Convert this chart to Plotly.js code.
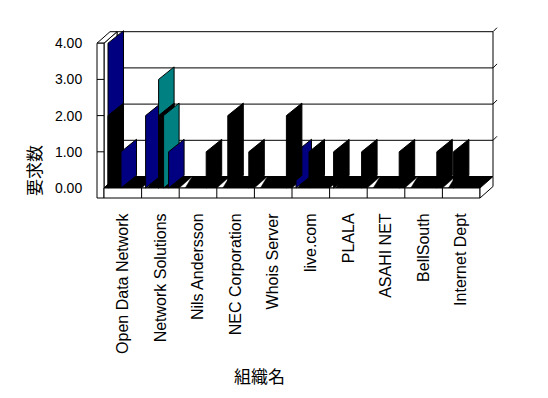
<!DOCTYPE html>
<html>
<head>
<meta charset="utf-8">
<script src="https://cdn.plot.ly/plotly-3.0.1.min.js"></script>
<style>html,body{margin:0;padding:0;background:#fff;}#chart{width:548px;height:398px;}</style>
</head>
<body>
<div id="chart"></div>
<script>
// ---- data ----
const categories = ["Open Data Network","Network Solutions","Nils Andersson","NEC Corporation","Whois Server","live.com","PLALA","ASAHI NET","BellSouth","Internet Dept"];
const yTickValues = [0, 1, 2, 3, 4];
const xTitle = "組織名";
const yTitle = "要求数";

// each series: values per organisation (drawn back to front in this order)
const navySeries1  = [4, 2, 0, 0, 0, 1, 0, 0, 0, 0];
const blackSeries1 = [2, 0, 0, 0, 0, 0, 1, 0, 0, 0];
const blackSeries2 = [0, 0, 0, 2, 0, 0, 0, 0, 0, 1];
const tealSeries1  = [0, 3, 0, 0, 0, 0, 0, 0, 0, 0];
const blackSeries3 = [0, 2, 0, 0, 0, 1, 0, 0, 0, 0];
const navySeries2  = [1, 0, 0, 0, 0, 0, 0, 0, 0, 0];
const tealSeries2  = [0, 2, 0, 0, 0, 0, 0, 0, 0, 0];
const navySeries3  = [0, 1, 0, 0, 0, 0, 0, 0, 0, 0];
const blackSeries4 = [0, 0, 1, 0, 0, 0, 0, 0, 0, 0];
const blackSeries5 = [0, 0, 0, 1, 2, 0, 1, 1, 1, 0];

// ---- styling / geometry ----
const NAVY = "#000080", TEAL = "#008080", BLACK = "#000000";
const PXX = 37.6, PXY = 36.2;                 // pixels per unit
const slotPx = [4, 11, 17, 22, 27, 32];       // plate position inside a category
const BDX = 15.5 / PXX, BDY = 12.5 / PXY;     // bar depth offset
const WDX = 13 / PXX, WDY = 11.5 / PXY;       // wall depth offset
const SLAB = 10 / PXY, LWALL = 7 / PXX;       // floor / wall thickness

const seriesList = [
  [navySeries1, 0, NAVY], [blackSeries1, 0, BLACK], [blackSeries2, 1, BLACK],
  [tealSeries1, 2, TEAL], [blackSeries3, 2, BLACK], [navySeries2, 2, NAVY],
  [tealSeries2, 3, TEAL], [navySeries3, 4, NAVY], [blackSeries4, 4, BLACK],
  [blackSeries5, 5, BLACK]
];

function plateTrace(values, slot, color) {
  const xs = [], ys = [];
  values.forEach((v, i) => {
    if (v <= 0) return;
    const a = i - 0.5 + slotPx[slot] / PXX;
    xs.push(a, a, a + BDX, a + BDX, a, null);
    ys.push(0, v, v + BDY, BDY, 0, null);
  });
  return {type: "scatter", mode: "lines", x: xs, y: ys, fill: "toself",
          fillcolor: color, line: {color: "#000", width: 1},
          hoverinfo: "skip", showlegend: false};
}

const traces = seriesList.map(s => plateTrace(s[0], s[1], s[2]));

// ---- 3D frame (walls / floor) ----
const n = categories.length;
const L = -0.5, R = n - 0.5, TOP = yTickValues[yTickValues.length - 1];
function path(pts) { return "M " + pts.map(p => p[0] + "," + p[1]).join(" L ") + " Z"; }
function poly(pts, fill, lw) {
  return {type: "path", xref: "x", yref: "y", layer: "below", path: path(pts),
          fillcolor: fill, line: {color: "#000", width: lw === undefined ? 1 : lw}};
}
function seg(x0, y0, x1, y1) {
  return {type: "line", xref: "x", yref: "y", layer: "below", x0, y0, x1, y1,
          line: {color: "#000", width: 1}};
}
const shapes = [];
// back wall
shapes.push(poly([[L + WDX, WDY], [R + WDX, WDY], [R + WDX, TOP + WDY], [L + WDX, TOP + WDY]], "#fff"));
yTickValues.slice(1, -1).forEach(k => shapes.push(seg(L + WDX, k + WDY, R + WDX, k + WDY)));
// small marks on back wall right edge
yTickValues.slice(1).forEach(k => shapes.push(seg(R + WDX, k + WDY, R + WDX + 4 / PXX, k + WDY + 4 / PXY)));
// left wall inner face
shapes.push(poly([[L, 0], [L, TOP], [L + WDX, TOP + WDY], [L + WDX, WDY]], "#fff"));
// left wall top
shapes.push(poly([[L - LWALL, TOP], [L, TOP], [L + WDX, TOP + WDY], [L - LWALL + WDX, TOP + WDY]], "#fff"));
// left wall front face
shapes.push(poly([[L - LWALL, -SLAB], [L, -SLAB], [L, TOP], [L - LWALL, TOP]], "#fff"));
yTickValues.slice(1, -1).forEach(k => shapes.push(seg(L - LWALL, k, L, k)));
// floor top
shapes.push(poly([[L, 0], [R, 0], [R + WDX, WDY], [L + WDX, WDY]], "#fff"));
// floor dark bands (category floor cells)
for (let i = 0; i < n; i++) {
  const a = i - 0.5, b = i + 0.5;
  const gap = i === 0 ? 0 : 6 / PXX;
  shapes.push(poly([[a + gap, 0], [b, 0], [b + WDX, WDY], [a + WDX, WDY]], "#000", 0.5));
}
// floor slab front + side
shapes.push(poly([[L, -SLAB], [R, -SLAB], [R, 0], [L, 0]], "#fff"));
for (let i = 1; i < n; i++) shapes.push(seg(i - 0.5, -SLAB, i - 0.5, 0));
shapes.push(poly([[R, -SLAB], [R, 0], [R + WDX, WDY], [R + WDX, WDY - SLAB]], "#fff"));

// ---- layout ----
const ML = 90, MR = 48, MT = 25, MB = 198;
const plotW = 548 - ML - MR, plotH = 398 - MT - MB;
const xMin = L - 14 / PXX, xMax = xMin + plotW / PXX;
const yMax = (188 - MT) / PXY, yMin = yMax - plotH / PXY;

const layout = {
  width: 548, height: 398,
  margin: {l: ML, r: MR, t: MT, b: MB, pad: 0},
  paper_bgcolor: "#fff", plot_bgcolor: "rgba(0,0,0,0)",
  showlegend: false,
  font: {family: "Liberation Sans, Arial, sans-serif", color: "#000"},
  xaxis: {range: [xMin, xMax], tickmode: "array", tickvals: categories.map((c, i) => i),
          ticktext: categories, tickangle: -90, showgrid: false, zeroline: false,
          showline: false, ticks: "outside", ticklen: 6, tickcolor: "rgba(0,0,0,0)",
          tickfont: {size: 16, family: "Liberation Sans, Arial, sans-serif"}, fixedrange: true},
  yaxis: {range: [yMin, yMax], tickmode: "array", tickvals: yTickValues,
          tickformat: ".2f", showgrid: false, zeroline: false, showline: false,
          ticks: "outside", ticklen: 4, tickcolor: "rgba(0,0,0,0)",
          tickfont: {size: 14, family: "Liberation Sans, Arial, sans-serif"}, fixedrange: true},
  shapes: shapes,
  annotations: [
    {text: yTitle, xref: "paper", yref: "paper", x: (33 - ML) / plotW, y: (398 - MB - 170) / plotH,
     textangle: -90, showarrow: false, xanchor: "center", yanchor: "middle",
     font: {size: 17, family: "Noto Sans CJK JP"}},
    {text: xTitle, xref: "paper", yref: "paper", x: (259 - ML) / plotW, y: (398 - MB - 375) / plotH,
     showarrow: false, xanchor: "center", yanchor: "middle",
     font: {size: 17, family: "Noto Sans CJK JP"}}
  ]
};

Plotly.newPlot("chart", traces, layout, {displayModeBar: false, staticPlot: true});
</script>
</body>
</html>
